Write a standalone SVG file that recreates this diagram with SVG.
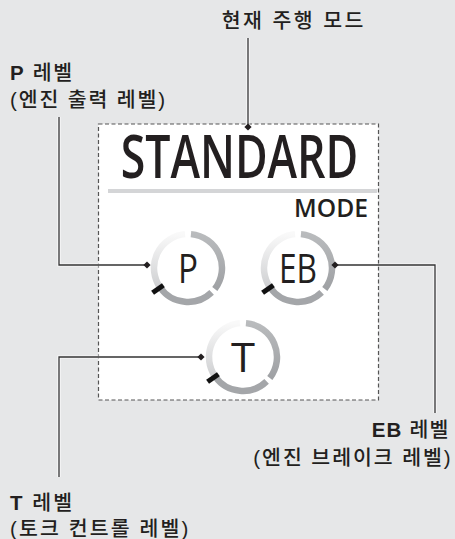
<svg xmlns="http://www.w3.org/2000/svg" width="455" height="539" viewBox="0 0 455 539">
<style>
.lbl{font-family:"Liberation Sans","Noto Sans CJK KR",sans-serif;font-size:20.5px;font-weight:500;fill:#231f20}
.b{font-weight:bold}
.halo{fill:none;stroke:#ffffff;stroke-width:3.2;stroke-opacity:0.8}
.lead{fill:none;stroke:#333333;stroke-width:1.3}
.gl{font-family:"Open Sans","Noto Sans",sans-serif;font-size:41px;font-weight:normal;fill:#231f20;text-anchor:middle}
.big{font-family:"Open Sans","Noto Sans",sans-serif;font-weight:600;fill:#231f20}
</style>
<defs>
<linearGradient id="lightArc" x1="0" y1="0" x2="0" y2="1">
<stop offset="0" stop-color="#f9f9f9"/>
<stop offset="1" stop-color="#cfd0d2"/>
</linearGradient>
<linearGradient id="rightArc" x1="0" y1="0" x2="0" y2="1">
<stop offset="0" stop-color="#b9bbbd"/>
<stop offset="1" stop-color="#9fa1a4"/>
</linearGradient>
<g id="ring">
<path d="M -27.85 19.50 A 34 34 0 0 1 -2.96 -33.87" fill="none" stroke="url(#lightArc)" stroke-width="6.5"/>
<path d="M 2.96 -33.87 A 34 34 0 0 1 26.79 20.93" fill="none" stroke="url(#rightArc)" stroke-width="6.5"/>
<path d="M 23.62 24.46 A 34 34 0 0 1 -27.85 19.50" fill="none" stroke="#a4a6a9" stroke-width="6.5"/>
<line x1="-24.6" y1="17.2" x2="-35.4" y2="24.8" stroke="#111111" stroke-width="5"/>
</g>
<path id="dia" d="M0 -3.6 L3.6 0 L0 3.6 L-3.6 0 Z" fill="#231f20"/>
</defs>
<rect x="0" y="0" width="455" height="539" fill="#e6e7e8"/>

<g id="mode-display">
<rect x="98.5" y="124" width="280" height="276" fill="#ffffff" stroke="#555555" stroke-width="1.2" stroke-dasharray="4 2.5"/>
<text class="big" x="120.7" y="178" font-size="60" textLength="237.6" lengthAdjust="spacingAndGlyphs">STANDARD</text>
<rect x="108" y="189" width="269" height="4" fill="#d4d5d7"/>
<text class="big" x="294" y="217" font-size="26" textLength="74" lengthAdjust="spacingAndGlyphs">MODE</text>
</g>

<g id="gauge-p">
<use href="#ring" x="188" y="268"/>
<text class="gl" x="188" y="282.5" textLength="20" lengthAdjust="spacingAndGlyphs">P</text>
</g>
<g id="gauge-eb">
<use href="#ring" x="298" y="268"/>
<text class="gl" x="298" y="282.5" textLength="38" lengthAdjust="spacingAndGlyphs">EB</text>
</g>
<g id="gauge-t">
<use href="#ring" x="243" y="357"/>
<text class="gl" x="243" y="371.5" textLength="24" lengthAdjust="spacingAndGlyphs">T</text>
</g>

<g id="connectors">
<path class="halo" d="M248 38 V127 M59 117 V265 H147 M335 265 H435 V413 M201 357 H59 V477"/>
<path class="lead" d="M248 38 V127 M59 117 V265 H147 M335 265 H435 V413 M201 357 H59 V477"/>
<use href="#dia" x="248" y="127"/>
<use href="#dia" x="147" y="265"/>
<use href="#dia" x="335" y="265"/>
<use href="#dia" x="201" y="357"/>
</g>

<g id="label-mode">
<text class="lbl" x="221.7" y="27.5" textLength="141.6" lengthAdjust="spacing">현재 주행 모드</text>
</g>
<g id="label-p">
<text class="lbl" x="10" y="80" textLength="62" lengthAdjust="spacing"><tspan class="b">P</tspan> 레벨</text>
<text class="lbl" x="10" y="106.5" textLength="155" lengthAdjust="spacing">(엔진 출력 레벨)</text>
</g>
<g id="label-eb">
<text class="lbl" x="371.7" y="436.7" textLength="76.6" lengthAdjust="spacing"><tspan class="b">EB</tspan> 레벨</text>
<text class="lbl" x="253.3" y="465" textLength="197.4" lengthAdjust="spacing">(엔진 브레이크 레벨)</text>
</g>
<g id="label-t">
<text class="lbl" x="10" y="510" textLength="62" lengthAdjust="spacing"><tspan class="b">T</tspan> 레벨</text>
<text class="lbl" x="10" y="535.5" textLength="178.3" lengthAdjust="spacing">(토크 컨트롤 레벨)</text>
</g>
</svg>
